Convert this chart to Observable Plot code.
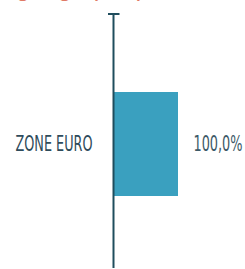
<!DOCTYPE html>
<html><head><meta charset="utf-8">
<script src="https://cdn.jsdelivr.net/npm/d3@7"></script>
<script src="https://cdn.jsdelivr.net/npm/@observablehq/plot@0.6"></script>
<style>
body{margin:0;background:#fff;}
#wrap{position:relative;width:245px;height:269px;overflow:hidden;}
#title{position:absolute;left:16px;top:-50px;font:25px "Liberation Sans",sans-serif;color:#e07a66;white-space:nowrap;line-height:25px;}
#chart{position:absolute;left:0;top:0;}
</style></head><body>
<div id="wrap"><div id="title">Répartition<br>géographique</div><div id="chart"></div></div>
<script>
const categories = ["ZONE EURO"];
const values = [100.0];
const valueLabels = ["100,0%"];
const data = categories.map((c, i) => ({category: c, value: values[i], label: valueLabels[i]}));

const chart = Plot.plot({
  width: 245, height: 269,
  marginTop: 14, marginBottom: 1, marginLeft: 113, marginRight: 67,
  x: {domain: [0, 100], axis: null},
  y: {domain: categories, range: [92, 196], padding: 0, label: null, tickSize: 0, tickPadding: 21},
  style: {fontFamily: "'Liberation Sans Narrow','DejaVu Sans Condensed',sans-serif", fontSize: "21px", color: "#2e4b5b", background: "transparent"},
  marks: [
    Plot.barX(data, {x: "value", y: "category", fill: "#3aa0bf"}),
    Plot.ruleX([0], {stroke: "#1f4d5d", strokeWidth: 2, markerStart: "tick"}),
    Plot.text(data, {x: "value", y: "category", text: "label", textAnchor: "start", dx: 15, fill: "#3d5a68"})
  ]
});
document.getElementById("chart").appendChild(chart);
chart.querySelectorAll("marker path").forEach(p => p.setAttribute("stroke-width", 1));
const widths = {"ZONE EURO": 77, "100,0%": 49};
chart.querySelectorAll("text").forEach(t => {
  const s = t.textContent.trim();
  if (widths[s]) {
    t.setAttribute("textLength", widths[s]);
    t.setAttribute("lengthAdjust", "spacingAndGlyphs");
  }
});
</script>
</body></html>
